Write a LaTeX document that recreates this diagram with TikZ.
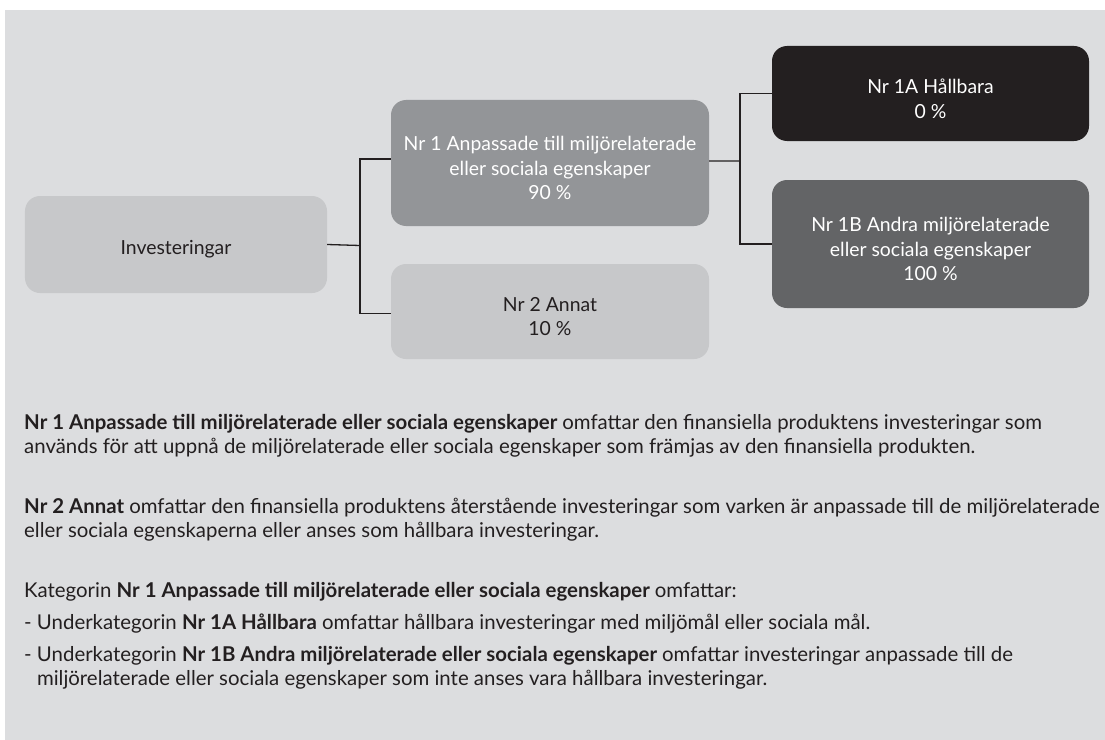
\documentclass[tikz,border=0pt]{standalone}
\usepackage{fontspec}
\setmainfont{Lato}
\definecolor{panel}{HTML}{DCDDDF}
\definecolor{boxlight}{HTML}{C7C8CA}
\definecolor{boxmid}{HTML}{939598}
\definecolor{boxdark}{HTML}{231F20}
\definecolor{boxgray}{HTML}{636466}
\definecolor{ink}{HTML}{231F20}
\tikzset{
  box/.style={rounded corners=15bp, inner sep=0pt, minimum width=318bp},
  boxtext/.style={inner sep=0pt, align=center, yshift=-5bp,
    font=\fontsize{19.4bp}{24.8bp}\selectfont},
  txt/.style={anchor=base west, inner sep=0pt, text=ink,
    font=\fontsize{20.4bp}{24bp}\selectfont},
  conn/.style={draw=ink, line width=1.3bp}
}
\begin{document}
\begin{tikzpicture}[x=1bp,y=-1bp]
\useasboundingbox (0,0) rectangle (1105,740);
\fill[panel] (5,10) rectangle (1105,740);

\node[box, fill=boxlight, minimum width=302bp, minimum height=97bp] (inv) at (176,244.5) {};
\node[box, fill=boxmid, minimum height=126bp] (nr1) at (550,163) {};
\node[box, fill=boxlight, minimum height=95bp] (nr2) at (550,311.5) {};
\node[box, fill=boxdark, minimum width=317bp, minimum height=95bp] (nr1a) at (930.5,93.5) {};
\node[box, fill=boxgray, minimum width=317bp, minimum height=128bp] (nr1b) at (930.5,244) {};

\node[boxtext, text=ink] (invT) at (inv.center) {Investeringar};
\node[boxtext, text=white] (nr1T) at (nr1.center) {Nr 1 Anpassade till miljörelaterade\\eller sociala egenskaper\\90 \%};
\node[boxtext, text=ink] (nr2T) at (nr2.center) {Nr 2 Annat\\10 \%};
\node[boxtext, text=white] (nr1aT) at (nr1a.center) {Nr 1A Hållbara\\0 \%};
\node[boxtext, text=white] (nr1bT) at (nr1b.center) {Nr 1B Andra miljörelaterade\\eller sociala egenskaper\\100 \%};

\coordinate (j1) at (360,245.5);
\coordinate (j2) at (740,161);
\draw[conn] (inv.east) -- (j1);
\draw[conn] ([yshift=4bp]nr1.west) -| (j1) |- ([yshift=-2bp]nr2.west);
\draw[conn] ([yshift=2bp]nr1.east) -- (j2);
\draw[conn] (nr1a.west) -| (j2) |- (nr1b.west);

\node[txt] (t1) at (24,429) {\textbf{Nr 1 Anpassade till miljörelaterade eller sociala egenskaper} omfattar den finansiella produktens investeringar som};
\node[txt] (t2) at (24,453) {används för att uppnå de miljörelaterade eller sociala egenskaper som främjas av den finansiella produkten.};
\node[txt] (t3) at (24,513) {\textbf{Nr 2 Annat} omfattar den finansiella produktens återstående investeringar som varken är anpassade till de miljörelaterade};
\node[txt] (t4) at (24,537) {eller sociala egenskaperna eller anses som hållbara investeringar.};
\node[txt] (t5) at (24,597) {Kategorin \textbf{Nr 1 Anpassade till miljörelaterade eller sociala egenskaper} omfattar:};
\node[txt] (t6) at (24,629) {- Underkategorin \textbf{Nr 1A Hållbara} omfattar hållbara investeringar med miljömål eller sociala mål.};
\node[txt] (t7) at (24,661) {- Underkategorin \textbf{Nr 1B Andra miljörelaterade eller sociala egenskaper} omfattar investeringar anpassade till de};
\node[txt] (t8) at (24,685) {\phantom{- }miljörelaterade eller sociala egenskaper som inte anses vara hållbara investeringar.};
\end{tikzpicture}
\end{document}
